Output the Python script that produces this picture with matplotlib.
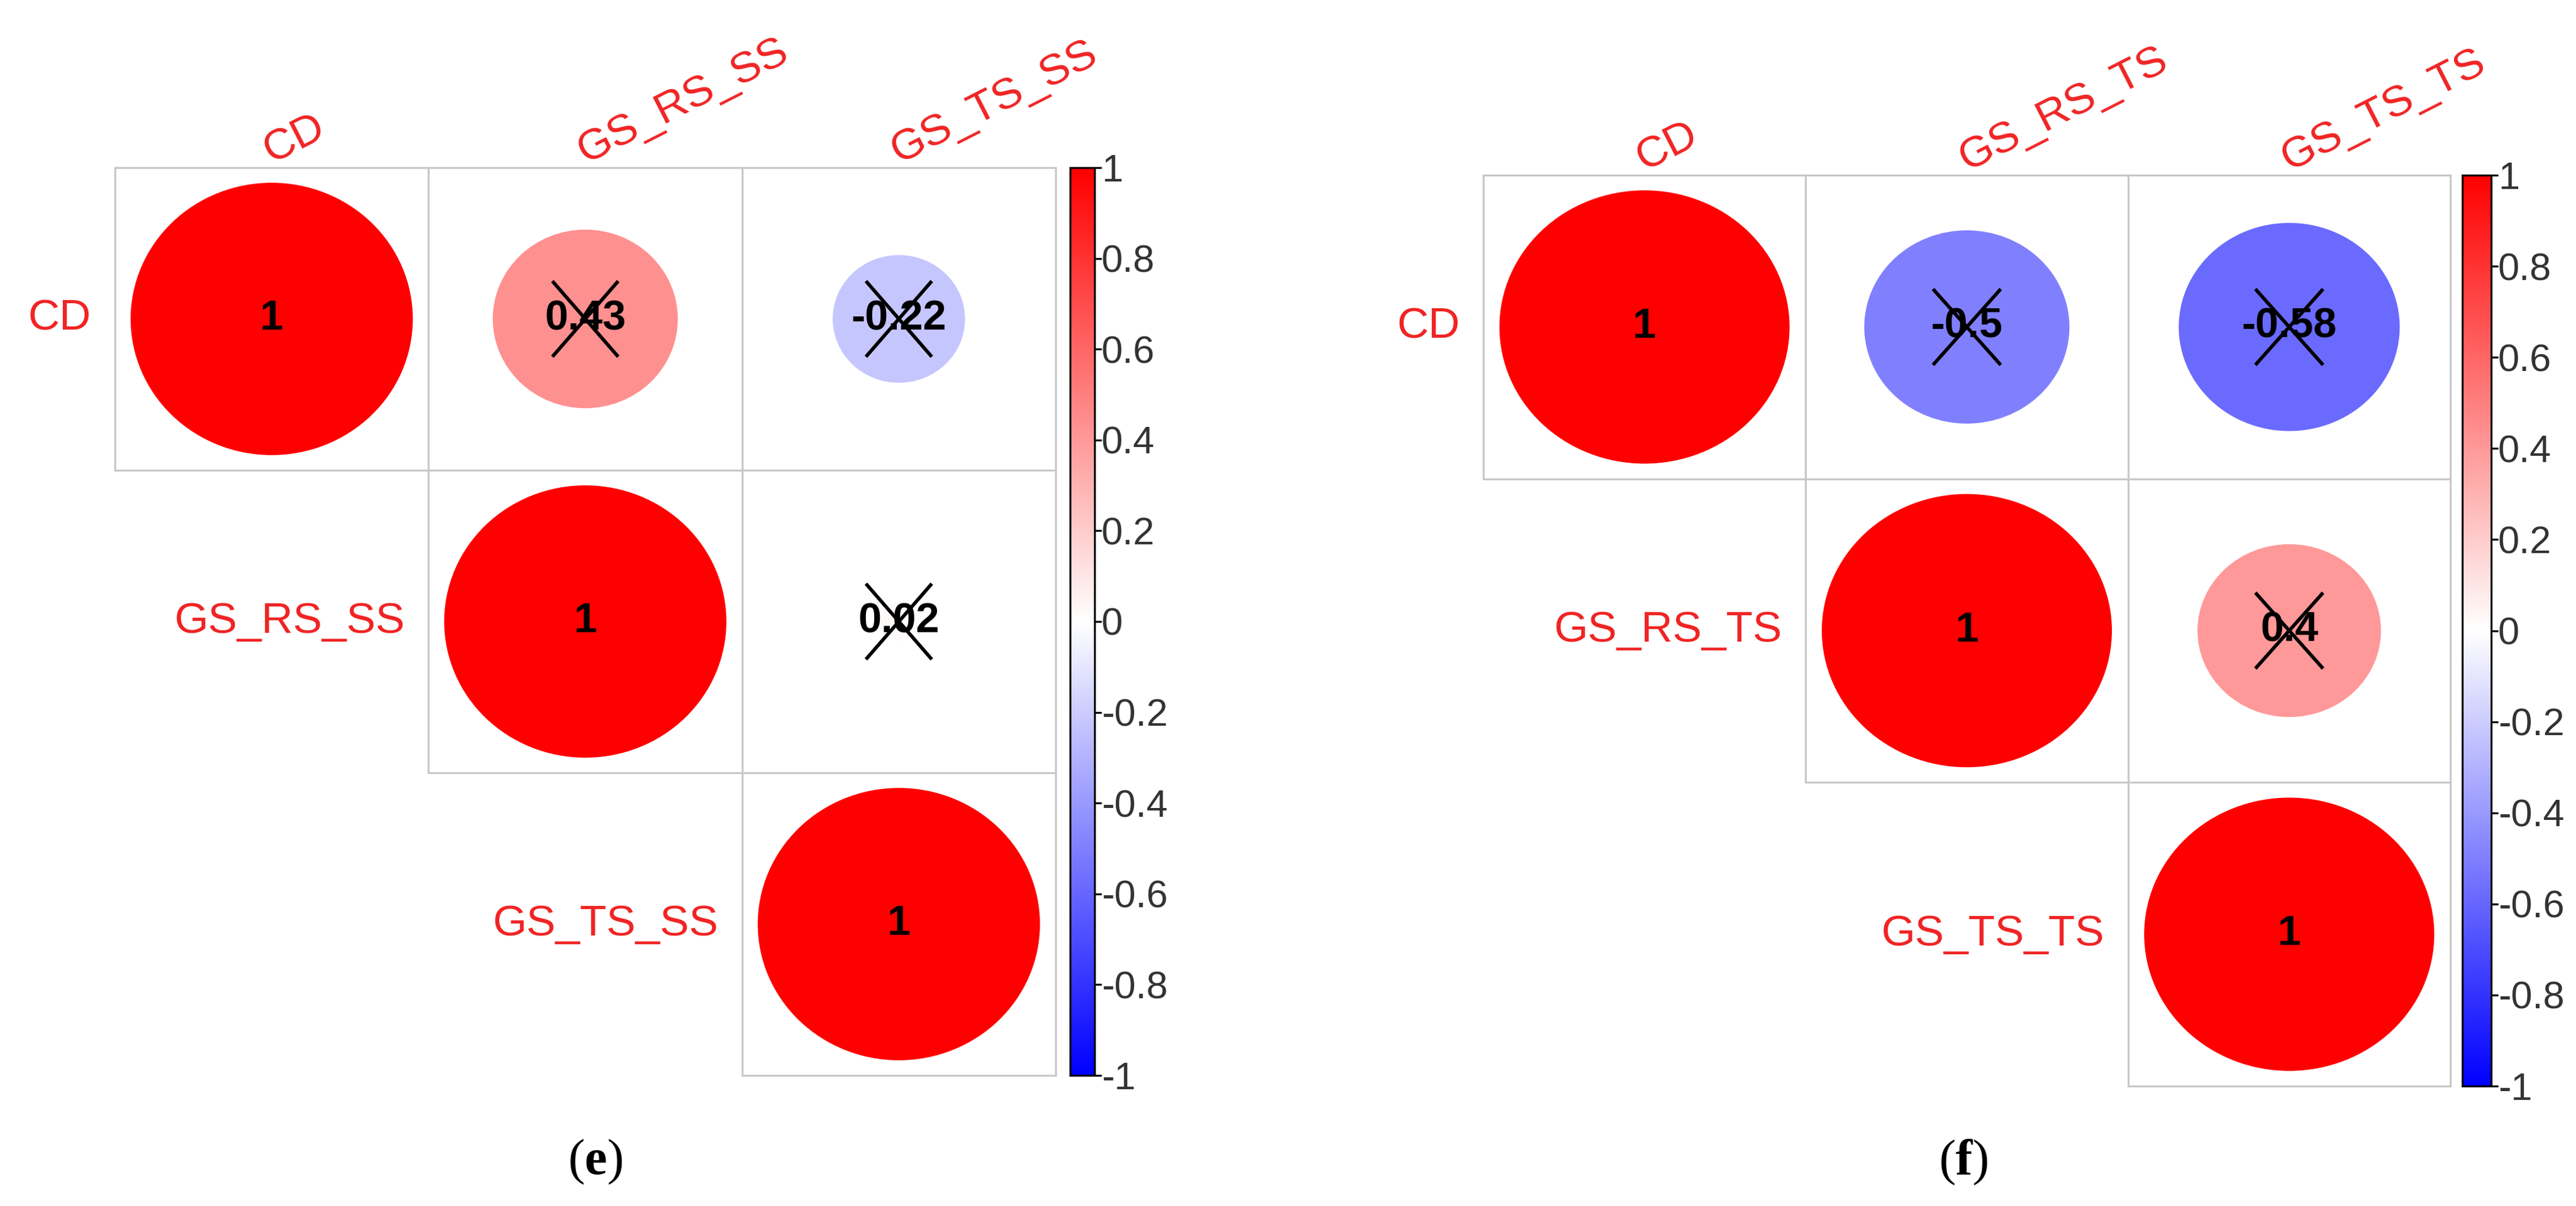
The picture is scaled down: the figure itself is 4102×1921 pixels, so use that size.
import matplotlib
matplotlib.use("Agg")
import matplotlib.pyplot as plt
import numpy as np
from matplotlib.patches import Ellipse, Rectangle
from matplotlib.colors import LinearSegmentedColormap, Normalize
from matplotlib.cm import ScalarMappable

# ---------------- data ----------------
labels_e = ["CD", "GS_RS_SS", "GS_TS_SS"]
corr_e = [[1.00, 0.43, -0.22],
          [0.43, 1.00, 0.02],
          [-0.22, 0.02, 1.00]]
crossed_e = [(0, 1), (0, 2), (1, 2)]   # non-significant (marked with X)

labels_f = ["CD", "GS_RS_TS", "GS_TS_TS"]
corr_f = [[1.00, -0.50, -0.58],
          [-0.50, 1.00, 0.40],
          [-0.58, 0.40, 1.00]]
crossed_f = [(0, 1), (0, 2), (1, 2)]

cbar_ticks = [1, 0.8, 0.6, 0.4, 0.2, 0, -0.2, -0.4, -0.6, -0.8, -1]
captions = ["e", "f"]

# ---------------- style ----------------
plt.rcParams["font.family"] = ["Liberation Sans", "DejaVu Sans"]
plt.rcParams["mathtext.fontset"] = "custom"
plt.rcParams["mathtext.rm"] = "Liberation Serif"
plt.rcParams["mathtext.bf"] = "Liberation Serif:bold"

W, H = 4102, 1921
DPI = 100
fig = plt.figure(figsize=(W / DPI, H / DPI), dpi=DPI)
fig.patch.set_facecolor("white")

cmap = LinearSegmentedColormap.from_list("bwr_corr", ["#0000FF", "#FFFFFF", "#FF0000"])
norm = Normalize(-1, 1)

LABEL_RED = "#F02424"
GRID_GRAY = "#C8C8C8"


def px_axes(x0, y0, x1, y1):
    return fig.add_axes([x0 / W, 1 - y1 / H, (x1 - x0) / W, (y1 - y0) / H])


def fmt(v):
    return f"{v:g}"


def draw_panel(grid_box, cbar_box, labels, corr, crossed, caption, cap_xy):
    ax = px_axes(*grid_box)
    n = len(labels)
    ax.set_xlim(0, n)
    ax.set_ylim(n, 0)
    ax.axis("off")
    corr = np.asarray(corr)
    for i in range(n):
        for j in range(i, n):
            ax.add_patch(Rectangle((j, i), 1, 1, fill=False, edgecolor=GRID_GRAY,
                                   linewidth=2.2, zorder=1, clip_on=False))
            v = corr[i, j]
            d = 0.9 * np.sqrt(abs(v))
            ax.add_patch(Ellipse((j + 0.5, i + 0.5), d, d, facecolor=cmap(norm(v)),
                                 edgecolor="none", zorder=2))
            ax.text(j + 0.5, i + 0.5, fmt(v), ha="center", va="center",
                    fontsize=48, fontweight="bold", color="black", zorder=4)
    for (i, j) in crossed:
        hx, hy = 0.105, 0.125
        ax.plot([j + 0.5 - hx, j + 0.5 + hx], [i + 0.5 - hy, i + 0.5 + hy],
                color="black", lw=4.0, zorder=5, solid_capstyle="butt")
        ax.plot([j + 0.5 - hx, j + 0.5 + hx], [i + 0.5 + hy, i + 0.5 - hy],
                color="black", lw=4.0, zorder=5, solid_capstyle="butt")
    # row labels
    for i, lab in enumerate(labels):
        ax.annotate(lab, xy=(i, i + 0.5), xycoords="data", xytext=(-27, 0),
                    textcoords="offset points", ha="right", va="center",
                    fontsize=50, color=LABEL_RED)
    # column labels
    for j, lab in enumerate(labels):
        ax.annotate(lab, xy=(j + 0.5, 0), xycoords="data", xytext=(0, 5),
                    textcoords="offset points", ha="left", va="baseline",
                    rotation=27, rotation_mode="anchor",
                    fontsize=50, color=LABEL_RED, annotation_clip=False)
    # colorbar
    cax = px_axes(*cbar_box)
    sm = ScalarMappable(norm=norm, cmap=cmap)
    cb = fig.colorbar(sm, cax=cax, orientation="vertical")
    cb.outline.set_linewidth(2.2)
    cb.outline.set_edgecolor("black")
    cb.set_ticks(cbar_ticks)
    cb.set_ticklabels([fmt(t) for t in cbar_ticks])
    cax.tick_params(axis="y", direction="out", length=8, width=2.2, pad=0,
                    labelsize=44, labelcolor="#333333", color="black")
    # caption
    fig.text(cap_xy[0] / W, 1 - cap_xy[1] / H,
             r"$\mathrm{(}\mathbf{" + caption + r"}\mathrm{)}$",
             ha="center", va="center", fontsize=58, color="black")


draw_panel((183, 267, 1681, 1713), (1704, 267, 1743, 1713),
           labels_e, corr_e, crossed_e, captions[0], (948, 1851))
draw_panel((2362, 279, 3902, 1730), (3921, 279, 3967, 1730),
           labels_f, corr_f, crossed_f, captions[1], (3126, 1851))

fig.savefig("out.png", dpi=DPI, facecolor="white")
